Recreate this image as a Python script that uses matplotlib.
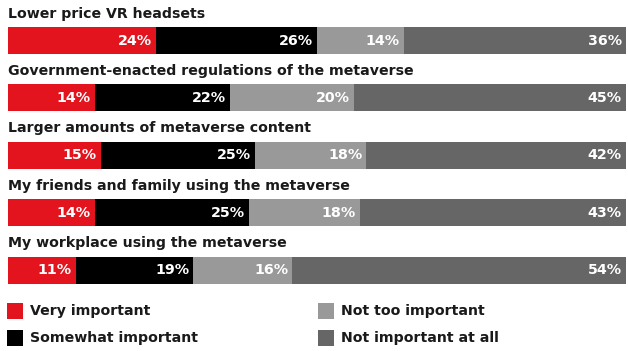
import numpy as np
import matplotlib
matplotlib.use("Agg")
import matplotlib.pyplot as plt
from matplotlib.patches import Rectangle

plt.rcParams["font.family"] = ["DejaVu Sans"]

CATEGORIES = [
    "Lower price VR headsets",
    "Government-enacted regulations of the metaverse",
    "Larger amounts of metaverse content",
    "My friends and family using the metaverse",
    "My workplace using the metaverse",
]
SERIES = ["Very important", "Somewhat important", "Not too important", "Not important at all"]
VERY = [24, 14, 15, 14, 11]
SOMEWHAT = [26, 22, 25, 25, 19]
NOT_TOO = [14, 20, 18, 18, 16]
NOT_AT_ALL = [36, 45, 42, 43, 54]
COLORS = ["#e3141d", "#000000", "#999999", "#666666"]

W, H = 628, 351


def main():
    fig = plt.figure(figsize=(W / 100, H / 100), dpi=100)
    ax = fig.add_axes([8 / W, 0, 618 / W, 1])
    ax.set_xlim(0, 100)
    ax.set_ylim(5.41, -0.706)
    ax.axis("off")

    y = np.arange(len(CATEGORIES))
    left = np.zeros(len(CATEGORIES))
    for vals, color in zip([VERY, SOMEWHAT, NOT_TOO, NOT_AT_ALL], COLORS):
        vals = np.array(vals, dtype=float)
        ax.barh(y, vals, left=left, height=0.47, color=color, edgecolor="none")
        ends = np.minimum(left + vals, 100)
        for yi, xe, v in zip(y, ends, vals):
            ax.annotate(f"{int(v)}%", (xe, yi), xytext=(-3, 0), textcoords="offset points",
                        ha="right", va="center", color="white", fontsize=10.3,
                        fontweight="bold")
        left = left + vals

    for yi, cat in zip(y, CATEGORIES):
        ax.text(0, yi - 0.47, cat, ha="left", va="center", fontsize=10.2,
                fontweight="bold", color="#1a1a1a")

    # legend, two columns
    slots = [(7, 311), (7, 338), (318, 311), (318, 338)]
    for (px, py), label, color in zip(slots, SERIES, COLORS):
        fig.patches.append(Rectangle((px / W, 1 - (py + 8) / H), 16 / W, 16 / H,
                                     transform=fig.transFigure, facecolor=color,
                                     edgecolor="none"))
        fig.text((px + 23) / W, 1 - py / H, label, ha="left", va="center",
                 fontsize=10.2, fontweight="bold", color="#1a1a1a")

    fig.savefig("out.png", dpi=100)
    plt.close(fig)


if __name__ == "__main__":
    main()
